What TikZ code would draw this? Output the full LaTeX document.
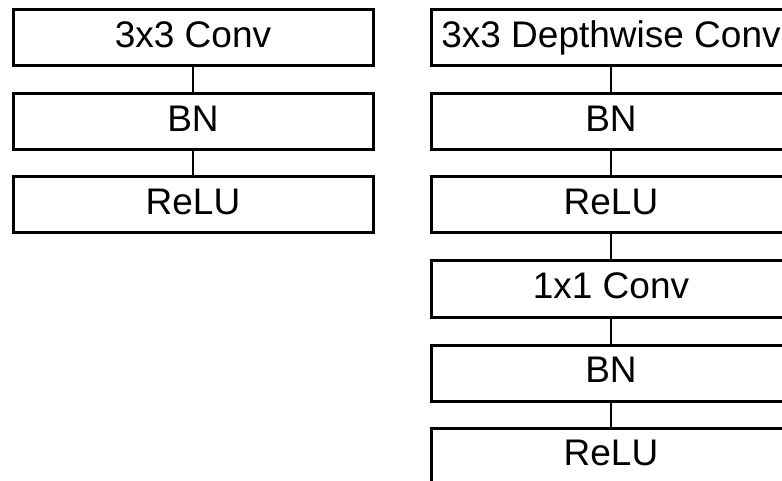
\documentclass[tikz,border=0pt]{standalone}
\usepackage{fontspec}
\setmainfont{Liberation Sans}
\begin{document}
\begin{tikzpicture}[x=1pt,y=-1pt,
  blk/.style={draw=black,line width=3pt,minimum width=360pt,minimum height=56pt,inner sep=0pt,text height=27pt,text depth=8pt,font=\fontsize{37}{40}\selectfont,anchor=center},
  link/.style={draw=black,line width=2.6pt}]
\clip (0,0) rectangle (782,481);
\fill[white] (0,0) rectangle (782,481);
\node[blk] (a1) at (193,38) {3x3 Conv};
\node[blk] (a2) at (193,122) {BN};
\node[blk] (a3) at (193,205) {ReLU};
\draw[link] (a1.south) -- (a2.north);
\draw[link] (a2.south) -- (a3.north);
\node[blk] (b1) at (611,38) {3x3 Depthwise Conv};
\node[blk] (b2) at (611,122) {BN};
\node[blk] (b3) at (611,205) {ReLU};
\node[blk] (b4) at (611,289) {1x1 Conv};
\node[blk] (b5) at (611,373) {BN};
\node[blk] (b6) at (611,456) {ReLU};
\draw[link] (b1.south) -- (b2.north);
\draw[link] (b2.south) -- (b3.north);
\draw[link] (b3.south) -- (b4.north);
\draw[link] (b4.south) -- (b5.north);
\draw[link] (b5.south) -- (b6.north);
\end{tikzpicture}
\end{document}
